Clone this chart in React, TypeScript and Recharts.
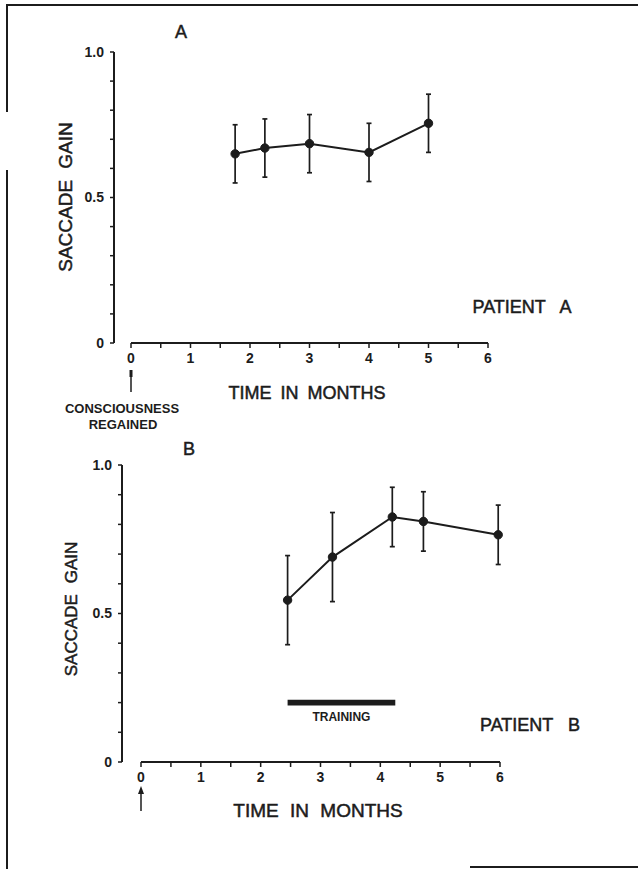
import { LineChart, Line, XAxis, YAxis, ErrorBar, ReferenceLine, ReferenceArea } from 'recharts'

// Patient A
const monthsA = [1.75, 2.25, 3, 4, 5]
const gainA = [0.65, 0.67, 0.685, 0.655, 0.755]
const errA = [0.1, 0.1, 0.1, 0.1, 0.1]

// Patient B
const monthsB = [2.45, 3.2, 4.2, 4.72, 5.97]
const gainB = [0.545, 0.69, 0.825, 0.81, 0.765]
const errB = [0.15, 0.15, 0.1, 0.1, 0.1]

// training period for patient B (months) and where the bar sits
const trainingSpan = [2.45, 4.25]
const trainingBand = [0.19, 0.21]

const monthTicks = [0, 0.5, 1, 1.5, 2, 2.5, 3, 3.5, 4, 4.5, 5, 5.5, 6]
const gainTicks = [0, 0.1, 0.2, 0.3, 0.4, 0.5, 0.6, 0.7, 0.8, 0.9, 1]
const gainTickLabels: Record<string, string> = { '0': '0', '0.5': '0.5', '1': '1.0' }

const dataA = monthsA.map((m, i) => ({ month: m, gain: gainA[i], err: errA[i] }))
const dataB = monthsB.map((m, i) => ({ month: m, gain: gainB[i], err: errB[i] }))

const INK = '#1c1c1c'
const FONT = '"Liberation Sans", Arial, sans-serif'

const tickStyle = { fontSize: 14, fill: INK, fontFamily: FONT, fontWeight: 'bold' as const }

function Txt({ x, y, size, children, bold, rotate, spacing }: any) {
  return (
    <div
      style={{
        position: 'absolute',
        left: x,
        top: y,
        transform: `translate(-50%, -50%)${rotate ? ` rotate(${rotate}deg)` : ''}`,
        fontFamily: FONT,
        fontSize: size,
        fontWeight: bold ? 'bold' : 'normal',
        color: INK,
        lineHeight: 1,
        whiteSpace: 'pre',
        wordSpacing: spacing ?? 0,
        WebkitTextStroke: bold ? undefined : `0.5px ${INK}`,
      }}
    >
      {children}
    </div>
  )
}

function Panel({ data, width, height, margin, yWidth, padLeft, children }: any) {
  return (
    <LineChart width={width} height={height} data={data} margin={margin}>
      <XAxis
        dataKey="month"
        type="number"
        domain={[0, 6]}
        ticks={monthTicks}
        interval={0}
        tickFormatter={(v: number) => (Number.isInteger(v) ? String(v) : '')}
        axisLine={false}
        tickLine={{ stroke: INK, strokeWidth: 1.5 }}
        tickSize={5}
        tickMargin={5}
        tick={tickStyle}
        padding={{ left: padLeft, right: 0 }}
        height={40}
      />
      <YAxis
        type="number"
        domain={[0, 1]}
        ticks={gainTicks}
        interval={0}
        tickFormatter={(v: number) => gainTickLabels[String(v)] ?? ''}
        axisLine={{ stroke: INK, strokeWidth: 2 }}
        tickLine={{ stroke: INK, strokeWidth: 1.5 }}
        tickSize={4}
        tickMargin={6}
        tick={tickStyle}
        width={yWidth}
      />
      <ReferenceLine
        segment={[{ x: 0, y: 0 }, { x: 6, y: 0 }]}
        stroke={INK}
        strokeWidth={2}
        ifOverflow="visible"
      />
      {children}
      <Line
        type="linear"
        dataKey="gain"
        stroke={INK}
        strokeWidth={2}
        dot={{ r: 4.2, fill: INK, stroke: INK, strokeWidth: 1 }}
        activeDot={false}
        isAnimationActive={false}
      >
        <ErrorBar dataKey="err" direction="y" width={2.5} stroke={INK} strokeWidth={1.7} />
      </Line>
    </LineChart>
  )
}

export default function App() {
  return (
    <div style={{ position: 'relative', width: 638, height: 869, background: '#fff', overflow: 'hidden' }}>
      <style>{'body{margin:0}'}</style>

      {/* scanned page frame */}
      <div style={{ position: 'absolute', left: 6, top: 4, width: 632, height: 2, background: INK }} />
      <div style={{ position: 'absolute', left: 6, top: 4, width: 2, height: 108, background: INK }} />
      <div style={{ position: 'absolute', left: 6, top: 170, width: 2, height: 699, background: INK }} />
      <div style={{ position: 'absolute', left: 470, top: 866, width: 168, height: 1.5, background: INK }} />

      <div style={{ position: 'absolute', left: 0, top: 0 }}>
        <Panel
          data={dataA}
          width={638}
          height={440}
          margin={{ top: 52, right: 150, bottom: 57, left: 0 }}
          yWidth={114}
          padLeft={17}
        />
      </div>

      <div style={{ position: 'absolute', left: 0, top: 420 }}>
        <Panel
          data={dataB}
          width={638}
          height={449}
          margin={{ top: 45, right: 138, bottom: 67, left: 0 }}
          yWidth={122}
          padLeft={19}
        >
          <ReferenceArea
            x1={trainingSpan[0]}
            x2={trainingSpan[1]}
            y1={trainingBand[0]}
            y2={trainingBand[1]}
            fill={INK}
            fillOpacity={1}
            stroke="none"
            label={{ value: 'TRAINING', position: 'bottom', offset: 7, fontSize: 12, fontWeight: 'bold', fill: INK, fontFamily: FONT }}
          />
        </Panel>
      </div>

      {/* panel A annotations */}
      <Txt x={181} y={32} size={18}>A</Txt>
      <Txt x={65} y={197} size={19} rotate={-90} spacing={6}>SACCADE GAIN</Txt>
      <Txt x={522} y={307} size={18} spacing={10}>PATIENT A</Txt>
      <Txt x={307} y={393} size={18} spacing={4}>TIME IN MONTHS</Txt>
      <Txt x={122} y={408} size={13} bold>CONSCIOUSNESS</Txt>
      <Txt x={123} y={424} size={13} bold>REGAINED</Txt>
      <svg style={{ position: 'absolute', left: 126, top: 368 }} width={10} height={26}>
        <line x1={5} y1={2} x2={5} y2={24} stroke={INK} strokeWidth={1.5} />
        <line x1={5} y1={2} x2={5} y2={9} stroke={INK} strokeWidth={3} />
      </svg>

      {/* panel B annotations */}
      <Txt x={189} y={449} size={18}>B</Txt>
      <Txt x={71} y={609} size={17} rotate={-90} spacing={6}>SACCADE GAIN</Txt>
      <Txt x={530} y={725} size={18} spacing={10}>PATIENT B</Txt>
      <Txt x={318} y={810} size={19} spacing={6}>TIME IN MONTHS</Txt>
      <svg style={{ position: 'absolute', left: 136, top: 785 }} width={10} height={28}>
        <line x1={5} y1={4} x2={5} y2={26} stroke={INK} strokeWidth={1.5} />
        <path d="M5 1 L8 9 L2 9 Z" fill={INK} />
      </svg>
    </div>
  )
}
